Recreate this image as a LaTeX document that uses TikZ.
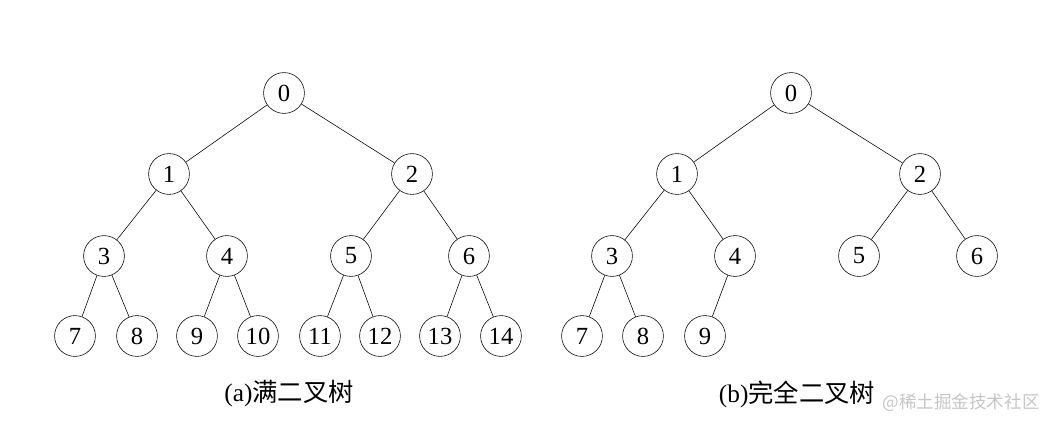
\documentclass[tikz,border=0pt]{standalone}
\usepackage{fontspec}
\setmainfont{Liberation Serif}
\newfontfamily\cjk{Noto Sans CJK SC}

\begin{document}
\begin{tikzpicture}[x=0.025cm,y=-0.025cm,every node/.style={font=\fontsize{17.5}{20}\selectfont},
  vertex/.style={circle,draw,inner sep=0pt,minimum size=1.02cm}]
  \useasboundingbox (0,0) rectangle (1049,420);
  % (a) full binary tree
  \node[vertex] (a0) at (284,93) {0};
  \node[vertex] (a1) at (169,174) {1};
  \node[vertex] (a2) at (412,174) {2};
  \node[vertex] (a3) at (104,256) {3};
  \node[vertex] (a4) at (227,256) {4};
  \node[vertex] (a5) at (351,256) {5};
  \node[vertex] (a6) at (469,256) {6};
  \node[vertex] (a7) at (75,336) {7};
  \node[vertex] (a8) at (137,336) {8};
  \node[vertex] (a9) at (197,336) {9};
  \node[vertex] (a10) at (258,336) {10};
  \node[vertex] (a11) at (320,336) {11};
  \node[vertex] (a12) at (380,336) {12};
  \node[vertex] (a13) at (440,336) {13};
  \node[vertex] (a14) at (501,336) {14};
  \draw (a0) -- (a1);
  \draw (a0) -- (a2);
  \draw (a1) -- (a3);
  \draw (a1) -- (a4);
  \draw (a2) -- (a5);
  \draw (a2) -- (a6);
  \draw (a3) -- (a7);
  \draw (a3) -- (a8);
  \draw (a4) -- (a9);
  \draw (a4) -- (a10);
  \draw (a5) -- (a11);
  \draw (a5) -- (a12);
  \draw (a6) -- (a13);
  \draw (a6) -- (a14);
  \node (capa) at (289,394) {\fontsize{18}{20}\selectfont(a)\cjk 满二叉树};
  % (b) complete binary tree
  \node[vertex] (b0) at (791,93) {0};
  \node[vertex] (b1) at (677,174) {1};
  \node[vertex] (b2) at (920,174) {2};
  \node[vertex] (b3) at (612,256) {3};
  \node[vertex] (b4) at (735,256) {4};
  \node[vertex] (b5) at (859,256) {5};
  \node[vertex] (b6) at (977,256) {6};
  \node[vertex] (b7) at (582,336) {7};
  \node[vertex] (b8) at (643,336) {8};
  \node[vertex] (b9) at (705,336) {9};
  \draw (b0) -- (b1);
  \draw (b0) -- (b2);
  \draw (b1) -- (b3);
  \draw (b1) -- (b4);
  \draw (b2) -- (b5);
  \draw (b2) -- (b6);
  \draw (b3) -- (b7);
  \draw (b3) -- (b8);
  \draw (b4) -- (b9);
  \node (capb) at (797,394) {\fontsize{18}{20}\selectfont(b)\cjk 完全二叉树};
  \node[text=gray!45] (mark) at (961,403) {\fontsize{12.5}{14}\selectfont\cjk @稀土掘金技术社区};
\end{tikzpicture}
\end{document}
